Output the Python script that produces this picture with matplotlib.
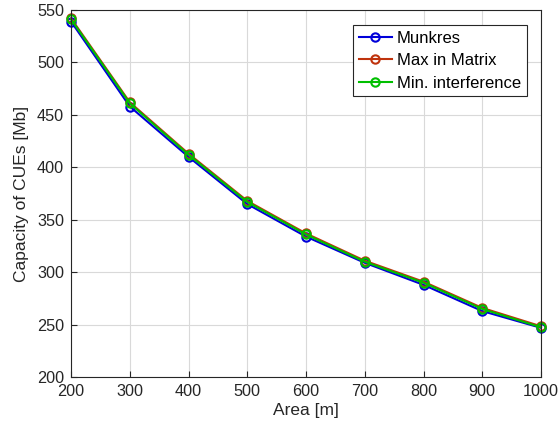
import matplotlib
matplotlib.use("Agg")
import matplotlib.pyplot as plt

plt.rcParams['font.family'] = ['Liberation Sans', 'DejaVu Sans']

area = [200, 300, 400, 500, 600, 700, 800, 900, 1000]
munkres = [539, 458, 410, 365, 334, 309, 288, 263, 247]
max_in_matrix = [542, 462, 413, 368, 337, 311, 291, 266, 248.5]
min_interference = [541, 461, 412, 367, 336, 310, 290, 265, 247.5]

series = [
    ("Munkres", munkres, (0.0, 0.0, 0.85)),
    ("Max in Matrix", max_in_matrix, (0.75, 0.2, 0.05)),
    ("Min. interference", min_interference, (0.0, 0.75, 0.0)),
]

fig = plt.figure(figsize=(5.6, 4.37), dpi=100)
ax = fig.add_axes([0.127, 0.137, 0.839, 0.840])

for name, vals, col in series:
    ax.plot(area, vals, '-o', color=col, lw=1.5, ms=6, mfc='none', mew=1.5,
            label=name, clip_on=False)

ax.set_xlim(200, 1000)
ax.set_ylim(200, 550)
ax.set_xticks(range(200, 1001, 100))
ax.set_yticks(range(200, 551, 50))
ax.grid(True, color='#d9d9d9', lw=0.8)
ax.tick_params(direction='in', length=4, labelsize=11.7, colors='#262626', pad=5)
for s in ax.spines.values():
    s.set_color('#262626')
    s.set_linewidth(0.8)
ax.set_xlabel("Area [m]", fontsize=12.5, color='#262626', labelpad=3)
ax.set_ylabel("Capacity of CUEs [Mb]", fontsize=12.5, color='#262626', labelpad=6)

leg = ax.legend(loc='upper right', bbox_to_anchor=(0.97, 0.96), fontsize=12,
                fancybox=False, framealpha=1, edgecolor='#262626',
                handlelength=2.0, handletextpad=0.3, borderpad=0.35,
                labelspacing=0.45, borderaxespad=0)
leg.get_frame().set_linewidth(0.8)

fig.savefig("out.png", dpi=100)
